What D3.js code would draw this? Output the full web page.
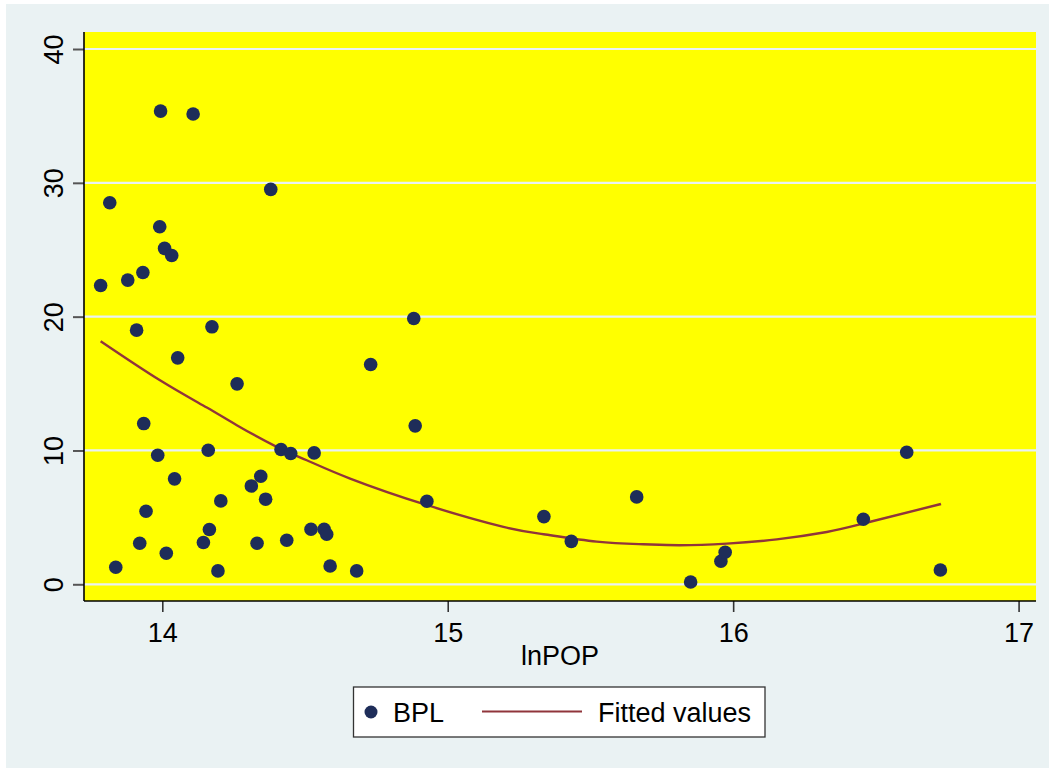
<!DOCTYPE html>
<html>
<head>
<meta charset="utf-8">
<script src="https://cdn.jsdelivr.net/npm/d3@7"></script>
<style>
  html, body { margin: 0; padding: 0; background: #ffffff; }
  svg { display: block; }
  text { font-family: "Liberation Sans", Arial, sans-serif; fill: #000; }
</style>
</head>
<body>
<svg id="chart" width="1049" height="768"></svg>
<script>
// BPL observations: log population (lnPOP) and BPL share
const lnPOP = [
  13.994, 14.108, 14.380, 13.816, 13.991, 14.008, 14.033, 13.932, 13.879, 13.784,
  13.910, 14.174, 14.054, 14.262, 13.935, 14.161, 13.984, 14.416, 14.450, 14.532,
  14.043, 14.345, 14.312, 14.362, 14.205, 13.943, 14.165, 14.521, 14.567, 14.576,
  13.921, 14.144, 14.332, 14.436, 14.014, 13.837, 14.195, 14.588, 14.681,
  14.881, 14.730, 14.886, 14.927, 15.337, 15.433, 15.662,
  15.851, 15.957, 15.972, 16.456, 16.608, 16.726
];
const BPL = [
  35.36, 35.14, 29.51, 28.51, 26.72, 25.10, 24.57, 23.30, 22.73, 22.33,
  18.99, 19.24, 16.92, 14.98, 12.01, 10.02, 9.64, 10.07, 9.77, 9.82,
  7.88, 8.07, 7.35, 6.36, 6.23, 5.46, 4.09, 4.11, 4.11, 3.74,
  3.07, 3.12, 3.07, 3.29, 2.32, 1.27, 1.00, 1.37, 1.00,
  19.86, 16.42, 11.84, 6.21, 5.06, 3.21, 6.53,
  0.17, 1.72, 2.39, 4.86, 9.87, 1.07
];

// Quadratic fitted values
const fitX = [13.784, 13.992, 14.156, 14.261, 14.401, 14.506, 14.658, 14.928, 15.195,
              15.336, 15.522, 15.685, 15.814, 15.978, 16.153, 16.328, 16.456, 16.728];
const fitY = [18.17, 15.25, 13.21, 11.89, 10.27, 9.27, 7.90, 5.91, 4.29,
              3.74, 3.19, 2.99, 2.92, 3.04, 3.36, 3.91, 4.54, 6.00];

const xTicks = [14, 15, 16, 17];
const yTicks = [0, 10, 20, 30, 40];
const xTitle = "lnPOP";
const legendLabels = ["BPL", "Fitted values"];

const colors = {
  bg: "#eaf2f3",
  plot: "#ffff00",
  grid: "#eaf2f3",
  marker: "#1e2d59",
  fit: "#90353b"
};

const FONT = 27;
const svg = d3.select("#chart");

// outer graph region
svg.append("rect")
  .attr("x", 6).attr("y", 4)
  .attr("width", 1049 - 6).attr("height", 768 - 4)
  .attr("fill", colors.bg);

const plot = { left: 84, right: 1036, top: 32, bottom: 601 };

const x = d3.scaleLinear().domain([13.7257, 17.061]).range([plot.left, plot.right]);
const y = d3.scaleLinear().domain([-1.2486, 41.271]).range([plot.bottom, plot.top]);

// plot region
svg.append("rect")
  .attr("x", plot.left).attr("y", plot.top)
  .attr("width", plot.right - plot.left).attr("height", plot.bottom - plot.top)
  .attr("fill", colors.plot);

// horizontal grid lines
svg.append("g")
  .selectAll("line")
  .data(yTicks)
  .join("line")
  .attr("x1", plot.left).attr("x2", plot.right)
  .attr("y1", d => y(d)).attr("y2", d => y(d))
  .attr("stroke", colors.grid)
  .attr("stroke-width", 2.2);

// y axis with rotated labels
const yAxis = svg.append("g")
  .attr("transform", `translate(${plot.left},0)`)
  .call(d3.axisLeft(y).tickValues(yTicks).tickSize(11).tickSizeOuter(0));
yAxis.select(".domain").remove();
yAxis.selectAll(".tick line").attr("stroke", "#555").attr("stroke-width", 2);
yAxis.selectAll(".tick text")
  .attr("font-size", FONT)
  .attr("text-anchor", "middle")
  .attr("x", null).attr("y", null).attr("dy", null)
  .attr("transform", "translate(-21,0) rotate(-90)");
svg.append("line")
  .attr("x1", plot.left).attr("x2", plot.left)
  .attr("y1", plot.top).attr("y2", plot.bottom)
  .attr("stroke", "#000").attr("stroke-width", 1.6);

// x axis
const xAxis = svg.append("g")
  .attr("transform", `translate(0,${plot.bottom})`)
  .call(d3.axisBottom(x).tickValues(xTicks).tickFormat(d3.format("d")).tickSize(11).tickSizeOuter(0));
xAxis.select(".domain").remove();
xAxis.selectAll(".tick line").attr("stroke", "#333").attr("stroke-width", 1.6);
xAxis.selectAll(".tick text")
  .attr("font-size", FONT)
  .attr("y", 41).attr("dy", null);
svg.append("line")
  .attr("x1", plot.left).attr("x2", plot.right)
  .attr("y1", plot.bottom).attr("y2", plot.bottom)
  .attr("stroke", "#000").attr("stroke-width", 1.6);

// x title
svg.append("text")
  .attr("x", (plot.left + plot.right) / 2)
  .attr("y", 665)
  .attr("text-anchor", "middle")
  .attr("font-size", FONT)
  .text(xTitle);

// fitted curve
const fitData = fitX.map((v, i) => [v, fitY[i]]);
svg.append("path")
  .datum(fitData)
  .attr("fill", "none")
  .attr("stroke", colors.fit)
  .attr("stroke-width", 2.4)
  .attr("d", d3.line().x(d => x(d[0])).y(d => y(d[1])).curve(d3.curveNatural));

// scatter markers
const pts = lnPOP.map((v, i) => [v, BPL[i]]);
svg.append("g")
  .selectAll("circle")
  .data(pts)
  .join("circle")
  .attr("cx", d => x(d[0]))
  .attr("cy", d => y(d[1]))
  .attr("r", 6.8)
  .attr("fill", colors.marker);

// legend
const lg = svg.append("g");
lg.append("rect")
  .attr("x", 353.5).attr("y", 687)
  .attr("width", 411.5).attr("height", 50)
  .attr("fill", "#fff")
  .attr("stroke", "#333").attr("stroke-width", 1.3);
lg.append("circle")
  .attr("cx", 371).attr("cy", 712)
  .attr("r", 6.5)
  .attr("fill", colors.marker);
lg.append("text")
  .attr("x", 393).attr("y", 721.5)
  .attr("font-size", FONT)
  .text(legendLabels[0]);
lg.append("line")
  .attr("x1", 482).attr("x2", 582)
  .attr("y1", 711.5).attr("y2", 711.5)
  .attr("stroke", colors.fit).attr("stroke-width", 2.2);
lg.append("text")
  .attr("x", 598).attr("y", 721.5)
  .attr("font-size", FONT)
  .text(legendLabels[1]);
</script>
</body>
</html>
